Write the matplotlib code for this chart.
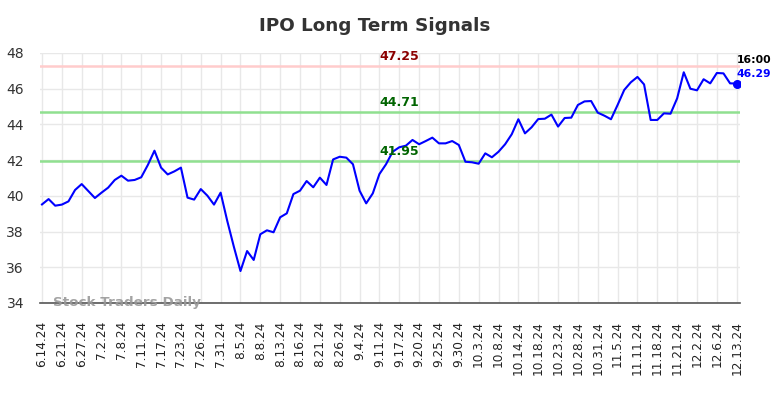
import matplotlib
matplotlib.use("Agg")
import matplotlib.pyplot as plt

title = "IPO Long Term Signals"
tick_labels = ["6.14.24", "6.21.24", "6.27.24", "7.2.24", "7.8.24", "7.11.24", "7.17.24",
               "7.23.24", "7.26.24", "7.31.24", "8.5.24", "8.8.24", "8.13.24", "8.16.24",
               "8.21.24", "8.26.24", "9.4.24", "9.11.24", "9.17.24", "9.20.24", "9.25.24",
               "9.30.24", "10.3.24", "10.8.24", "10.14.24", "10.18.24", "10.23.24",
               "10.28.24", "10.31.24", "11.5.24", "11.11.24", "11.18.24", "11.21.24",
               "12.2.24", "12.6.24", "12.13.24"]
tick_step = 3

prices = [39.52, 39.82, 39.45, 39.51, 39.69, 40.33, 40.66, 40.27, 39.88, 40.18,
          40.46, 40.89, 41.13, 40.85, 40.89, 41.04, 41.73, 42.53, 41.58, 41.20,
          41.37, 41.58, 39.90, 39.79, 40.38, 40.01, 39.51, 40.18, 38.60, 37.15,
          35.79, 36.91, 36.41, 37.85, 38.07, 37.96, 38.80, 39.02, 40.10, 40.29,
          40.83, 40.48, 41.02, 40.61, 42.04, 42.19, 42.14, 41.77, 40.29, 39.58,
          40.14, 41.22, 41.77, 42.47, 42.72, 42.81, 43.13, 42.89, 43.07, 43.26,
          42.94, 42.94, 43.07, 42.85, 41.91, 41.88, 41.80, 42.38, 42.16, 42.47,
          42.89, 43.45, 44.29, 43.50, 43.84, 44.30, 44.32, 44.55, 43.88, 44.36,
          44.38, 45.09, 45.29, 45.31, 44.66, 44.49, 44.29, 45.09, 45.93, 46.36,
          46.66, 46.24, 44.25, 44.25, 44.62, 44.60, 45.46, 46.92, 46.00, 45.91,
          46.53, 46.30, 46.88, 46.86, 46.30, 46.29]

resistance = 47.25
mid_level = 44.71
support = 41.95
last_time = "16:00"

fig = plt.figure(figsize=(7.84, 3.98), dpi=100)
ax = fig.add_axes([40 / 784, 95 / 398, 700 / 784, 250 / 398])

x = list(range(len(prices)))
ax.set_xlim(-0.3, len(prices) - 0.5)
ax.set_ylim(34, 48)
ax.set_yticks([34, 36, 38, 40, 42, 44, 46, 48])
ax.set_xticks(x[::tick_step])
ax.set_xticklabels(tick_labels, rotation=90, fontsize=8.7, color="#222222")
ax.tick_params(axis="y", labelsize=10, colors="#333333", length=0, pad=11.5)
ax.tick_params(axis="x", length=0, pad=13)
for lab in ax.get_yticklabels():
    lab.set_horizontalalignment("right")

ax.grid(True, color="#e8e8e8", linewidth=1)
ax.set_axisbelow(True)
for s in ["top", "right", "left"]:
    ax.spines[s].set_visible(False)
ax.spines["bottom"].set_color("#555555")
ax.spines["bottom"].set_linewidth(1.2)

ax.axhline(resistance, color="#ffcccc", linewidth=1.8, zorder=2)
ax.axhline(mid_level, color="#90e090", linewidth=1.8, zorder=2)
ax.axhline(support, color="#90e090", linewidth=1.8, zorder=2)

label_x = 54
ax.text(label_x, resistance + 0.18, f"{resistance:.2f}", color="#8b0000", fontsize=9,
        fontweight="bold", ha="center", va="bottom", zorder=5)
ax.text(label_x, mid_level + 0.18, f"{mid_level:.2f}", color="#006400", fontsize=9,
        fontweight="bold", ha="center", va="bottom", zorder=5)
ax.text(label_x, support + 0.18, f"{support:.2f}", color="#006400", fontsize=9,
        fontweight="bold", ha="center", va="bottom", zorder=5)

ax.plot(x, prices, color="#0000ff", linewidth=1.5, zorder=4)
ax.plot([x[-1]], [prices[-1]], "o", color="#0000ff", markersize=5.5, zorder=5)

ax.annotate(last_time, xy=(x[-1], prices[-1]), xytext=(0, 17.3), textcoords="offset points",
            ha="left", va="center", fontsize=7.8, fontweight="bold", color="#000000",
            annotation_clip=False)
ax.annotate(f"{prices[-1]:.2f}", xy=(x[-1], prices[-1]), xytext=(0, 7.2), textcoords="offset points",
            ha="left", va="center", fontsize=7.8, fontweight="bold", color="#0000ff",
            annotation_clip=False)

ax.text(0.019, 0.003, "Stock Traders Daily", transform=ax.transAxes, fontsize=9.7,
        fontweight="bold", color="#999999", alpha=0.9, ha="left", va="center", zorder=6)

fig.text(375 / 784, 1 - 26 / 398, title, ha="center", va="center", fontsize=13.2,
         fontweight="bold", color="#333333")

fig.savefig("out.png", dpi=100)
